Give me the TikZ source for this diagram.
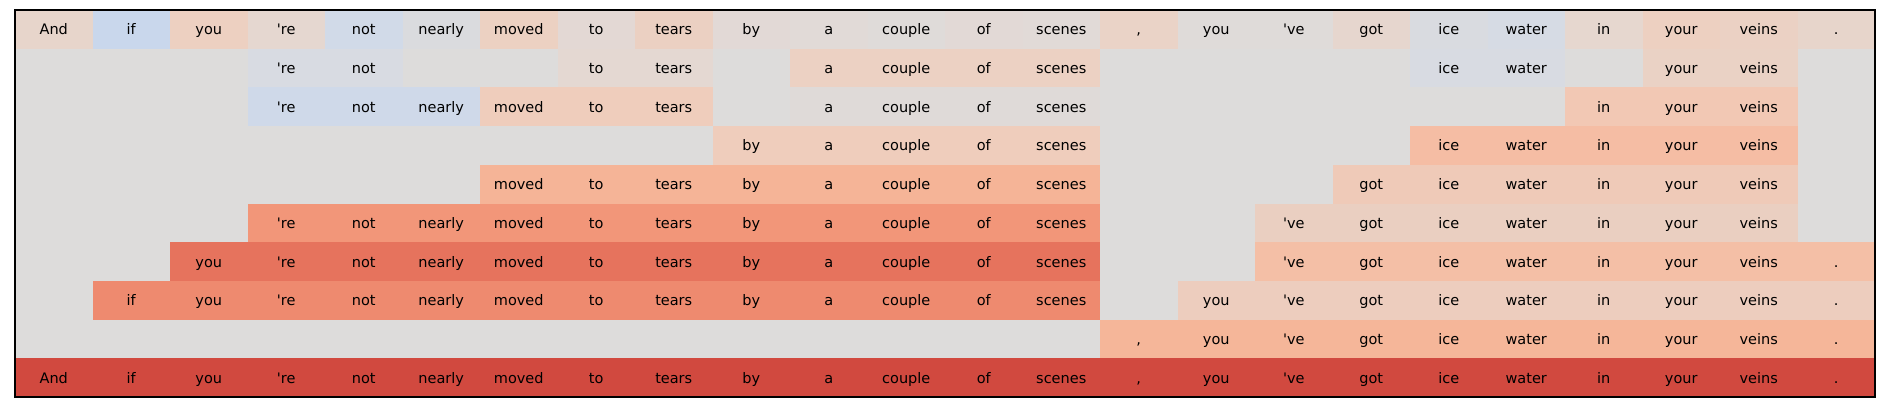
\documentclass[tikz,border=0pt]{standalone}
\usepackage{fontspec}
\newfontfamily\tokfont{DejaVu Sans}
\definecolor{bggray}{HTML}{DDDCDB}
\newcommand\tokof[1]{\ifcase#1\or And\or if\or you\or 're\or not\or nearly\or moved\or to\or tears\or by\or a\or couple\or of\or scenes\or ,\or you\or 've\or got\or ice\or water\or in\or your\or veins\or .\fi}
\tikzset{
  tok/.style={anchor=base, inner sep=0pt, text=black, font=\tokfont\fontsize{14.5}{17}\selectfont},
  gridframe/.style={draw=black, line width=1.3pt},
}
% row, first column, last column, colour
\newcommand\spanrow[4]{%
  \definecolor{spc}{HTML}{#4}%
  \fill[spc] ({15+(#2-1)*77.5},{10+(#1-1)*38.7}) rectangle ({15+#3*77.5},{10+#1*38.7});
  \pgfmathtruncatemacro\spfirst{#2}%
  \pgfmathtruncatemacro\splast{#3}%
  \foreach \k in {\spfirst,...,\splast} {\node[tok] (t#1-\k) at ({15+(\k-0.5)*77.5},{10+(#1-0.5)*38.7+5.5}) {\tokof{\k}};}
}
\begin{document}
\begin{tikzpicture}[x=1pt,y=-1pt]
\fill[white] (0,0) rectangle (1884,412);
\fill[bggray] (15,10) rectangle (1875,397);
% row 1: one colour per token
\foreach \cc/\hh in {1/E7D5CB,2/C9D7EC,3/EDD0C1,4/E5D7D0,5/D1DAE8,6/DADBDE,7/ECD1C2,8/E3D8D4,
  9/EBD0C2,10/E2D9D6,11/E1DAD7,12/DFDBD9,13/E2D9D6,14/E1DAD7,15/EAD3C7,16/DFDBD9,17/DFDBD9,
  18/E6D6CE,19/D9DBE0,20/D6DBE4,21/E6D7CF,22/EDD0C1,23/EBD1C4,24/E7D5CB} {
  \spanrow{1}{\cc}{\cc}{\hh}
}
% row 2
\spanrow{2}{4}{5}{D8DBE2}
\spanrow{2}{8}{9}{E4D8D2}
\spanrow{2}{11}{14}{ECD1C3}
\spanrow{2}{19}{20}{D8DBE2}
\spanrow{2}{22}{23}{EAD2C5}
% row 3
\spanrow{3}{4}{6}{CFD9E9}
\spanrow{3}{7}{9}{EFCDBC}
\spanrow{3}{11}{14}{DFDAD8}
\spanrow{3}{21}{23}{F2C8B4}
% row 4
\spanrow{4}{10}{14}{EFCDBC}
\spanrow{4}{19}{23}{F5BDA4}
% row 5
\spanrow{5}{7}{14}{F5B497}
\spanrow{5}{18}{23}{EFCAB8}
% row 6
\spanrow{6}{4}{14}{F29679}
\spanrow{6}{17}{23}{EACFC1}
% row 7
\spanrow{7}{3}{14}{E6735D}
\spanrow{7}{17}{24}{F4BFA6}
% row 8
\spanrow{8}{2}{14}{EE8A6F}
\spanrow{8}{16}{24}{EDCDBE}
% row 9
\spanrow{9}{15}{24}{F5B699}
% row 10
\spanrow{10}{1}{24}{D1493F}
\draw[gridframe] (15,10) rectangle (1875,397);
\end{tikzpicture}
\end{document}
